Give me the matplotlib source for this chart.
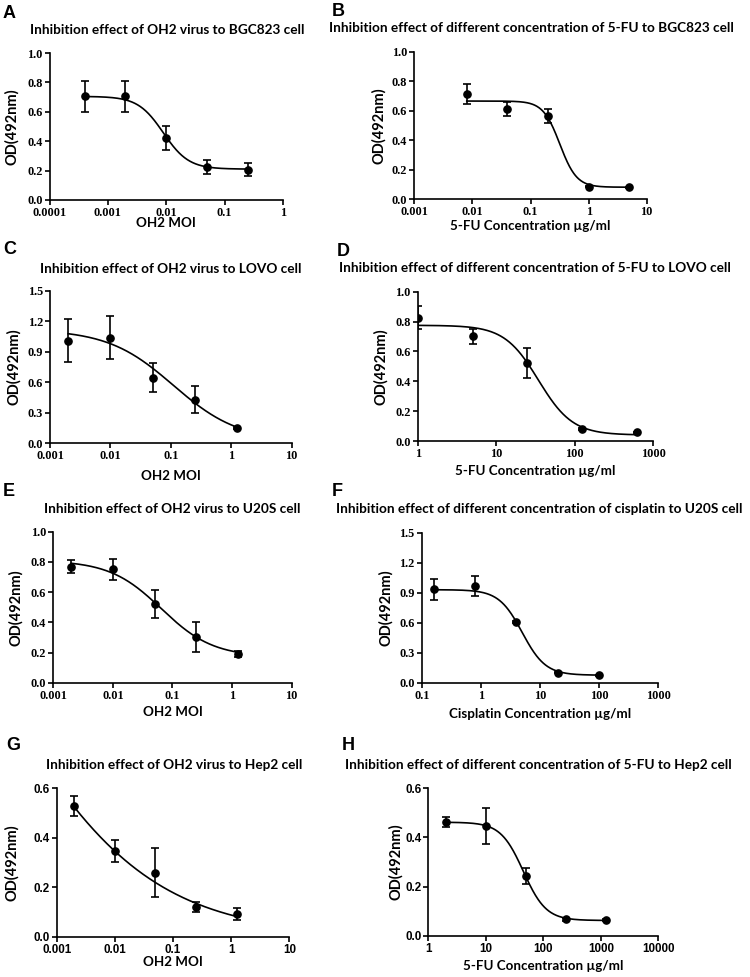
import numpy as np
import matplotlib
matplotlib.use("Agg")
import matplotlib.pyplot as plt
from matplotlib.ticker import FixedLocator, FixedFormatter, NullLocator
from matplotlib.font_manager import FontProperties

# ---------------- data ----------------
titles = [
    "Inhibition effect of OH2 virus to BGC823 cell",
    "Inhibition effect of different concentration of 5-FU to BGC823 cell",
    "Inhibition effect of OH2 virus to LOVO cell",
    "Inhibition effect of different concentration of 5-FU to LOVO cell",
    "Inhibition effect of OH2 virus to U20S cell",
    "Inhibition effect of different concentration of cisplatin to U20S cell",
    "Inhibition effect of OH2 virus to Hep2 cell",
    "Inhibition effect of different concentration of 5-FU to Hep2 cell",
]
letters = ["A", "B", "C", "D", "E", "F", "G", "H"]
xlabels = ["OH2 MOI", "5-FU Concentration \u00b5g/ml",
           "OH2 MOI", "5-FU Concentration \u00b5g/ml",
           "OH2 MOI", "Cisplatin Concentration \u00b5g/ml",
           "OH2 MOI", "5-FU Concentration \u00b5g/ml"]
ylabel = "OD(492nm)"

xA = [0.0004, 0.002, 0.01, 0.05, 0.25]
yA = [0.705, 0.705, 0.42, 0.225, 0.205]
eA = [0.105, 0.105, 0.083, 0.045, 0.045]

xB = [0.008, 0.04, 0.2, 1, 5]
yB = [0.715, 0.612, 0.561, 0.084, 0.080]
eB = [0.068, 0.046, 0.047, 0.005, 0.004]

xC = [0.002, 0.01, 0.05, 0.25, 1.25]
yC = [1.009, 1.038, 0.645, 0.428, 0.148]
eC = [0.213, 0.209, 0.144, 0.134, 0.01]

xD = [1, 5, 25, 125, 625]
yD = [0.826, 0.700, 0.520, 0.080, 0.058]
eD = [0.075, 0.052, 0.100, 0.006, 0.004]

xE = [0.002, 0.01, 0.05, 0.25, 1.25]
yE = [0.768, 0.751, 0.521, 0.305, 0.190]
eE = [0.044, 0.068, 0.090, 0.100, 0.018]

xF = [0.16, 0.8, 4, 20, 100]
yF = [0.933, 0.970, 0.610, 0.100, 0.077]
eF = [0.108, 0.100, 0.008, 0.006, 0.005]

xG = [0.002, 0.01, 0.05, 0.25, 1.25]
yG = [0.529, 0.347, 0.259, 0.119, 0.092]
eG = [0.040, 0.043, 0.100, 0.020, 0.025]

xH = [2, 10, 50, 250, 1250]
yH = [0.463, 0.447, 0.243, 0.0665, 0.064]
eH = [0.019, 0.073, 0.032, 0.006, 0.004]

# fitted 4-parameter logistic curves: (top, bottom, EC50, hill)
fitA = (0.705, 0.21, 0.0089, 2.0)
fitB = (0.665, 0.080, 0.32, 3.0)
fitC = (1.12, 0.02, 0.11, 0.8)
fitD = (0.775, 0.040, 34.5, 2.0)
fitE = (0.81, 0.17, 0.065, 1.0)
fitF = (0.93, 0.075, 5.0, 2.2)
fitG = (2.0, 0.0, 8.7e-5, 0.33)
fitH = (0.462, 0.062, 45.0, 2.2)

xlims = [(0.0001, 1), (0.001, 10), (0.001, 10), (1, 1000),
         (0.001, 10), (0.1, 1000), (0.001, 10), (1, 10000)]
yticks = [[0, 0.2, 0.4, 0.6, 0.8, 1.0], [0, 0.2, 0.4, 0.6, 0.8, 1.0],
          [0, 0.3, 0.6, 0.9, 1.2, 1.5], [0, 0.2, 0.4, 0.6, 0.8, 1.0],
          [0, 0.2, 0.4, 0.6, 0.8, 1.0], [0, 0.3, 0.6, 0.9, 1.2, 1.5],
          [0, 0.2, 0.4, 0.6], [0, 0.2, 0.4, 0.6]]

series = [(xA, yA, eA, fitA), (xB, yB, eB, fitB), (xC, yC, eC, fitC),
          (xD, yD, eD, fitD), (xE, yE, eE, fitE), (xF, yF, eF, fitF),
          (xG, yG, eG, fitG), (xH, yH, eH, fitH)]

# ---------------- layout (pixels) ----------------
W, H = 750, 977
# left, right, top, bottom of each axes
boxes = [(49.5, 283, 53, 200), (414.3, 646.7, 51.7, 199),
         (50, 291.7, 290.7, 443.3), (417.7, 653.3, 291.7, 441),
         (53.3, 291.7, 531.7, 682.7), (421.7, 658.3, 532.7, 682.7),
         (56.7, 289.3, 788.3, 936.7), (428.3, 658.3, 788.3, 935.7)]
title_pos = [(167, 30), (531, 28), (171, 269), (535, 268),
             (172, 509), (539, 509), (174, 765), (538, 765)]
letter_pos = [(3, 14), (332, 12), (3, 250), (337, 252),
              (3, 492), (332, 492), (6, 746), (342, 746)]
ylab_x = [12, 379, 14, 381, 16, 386, 12, 396]
xlab_y = [223, 226, 476, 471, 712, 714, 962, 966]

TITLE_FONT = "Lato"
fig = plt.figure(figsize=(W / 100, H / 100), dpi=100)


def logistic(x, p):
    top, bot, ec50, h = p
    return bot + (top - bot) / (1 + (x / ec50) ** h)


for i in range(8):
    l, r, t, b = boxes[i]
    ax = fig.add_axes([l / W, 1 - b / H, (r - l) / W, (b - t) / H])
    x, y, e, p = series[i]
    xs = np.logspace(np.log10(x[0]), np.log10(x[-1]), 300)
    ax.plot(xs, logistic(xs, p), color="black", lw=1.2, zorder=2)
    ax.errorbar(x, y, yerr=e, fmt="o", color="black", ms=5.2, lw=1.2,
                capsize=2.8, capthick=1.2, zorder=3)
    ax.set_xscale("log")
    ax.set_xlim(*xlims[i])
    yt = yticks[i]
    ax.set_ylim(0, yt[-1])
    for s in ("top", "right"):
        ax.spines[s].set_visible(False)
    for s in ("left", "bottom"):
        ax.spines[s].set_linewidth(1.2)
    lo, hi = xlims[i]
    decs = [10.0 ** k for k in range(int(round(np.log10(lo))), int(round(np.log10(hi))) + 1)]
    ax.xaxis.set_major_locator(FixedLocator(decs))
    ax.xaxis.set_major_formatter(FixedFormatter(["%g" % d for d in decs]))
    ax.xaxis.set_minor_locator(NullLocator())
    ax.yaxis.set_major_locator(FixedLocator(yt))
    ax.yaxis.set_major_formatter(FixedFormatter(["%.1f" % v for v in yt]))
    if i < 6:
        tfont = dict(family="Liberation Serif", weight="bold", size=8.8)
    else:
        tfont = dict(family="Liberation Sans", weight="bold", size=8.4)
    for lab in ax.get_xticklabels() + ax.get_yticklabels():
        lab.set_fontproperties(FontProperties(**tfont))
    ax.tick_params(direction="out", length=3.5, width=1.2, pad=1.5)
    ax.set_ylabel(ylabel, family=TITLE_FONT, weight="bold", fontsize=10.5)
    ax.set_xlabel(xlabels[i], family=TITLE_FONT, weight="bold", fontsize=9.6)
    ax.yaxis.set_label_coords((ylab_x[i] - l) / (r - l), 0.5)
    ax.xaxis.set_label_coords(0.5, (b - xlab_y[i]) / (b - t))
    ax.xaxis.label.set_va("center")
    ax.yaxis.label.set_va("center")

    tx, ty = title_pos[i]
    fig.text(tx / W, 1 - ty / H, titles[i], ha="center", va="center",
             family=TITLE_FONT, weight="bold", fontsize=9.8)
    lx, ly = letter_pos[i]
    fig.text(lx / W, 1 - ly / H, letters[i], ha="left", va="center",
             family="Liberation Sans", weight="bold", fontsize=13)

fig.savefig("out.png", dpi=100)
